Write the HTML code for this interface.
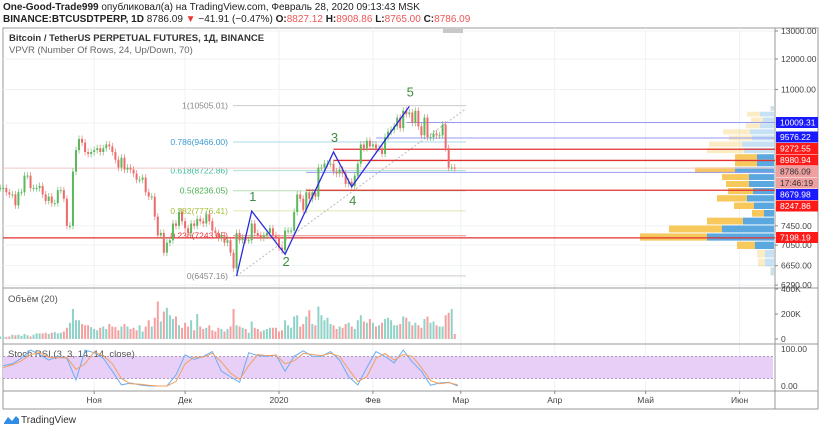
<!DOCTYPE html>
<html><head><meta charset="utf-8"><style>
body{margin:0;background:#fff;width:820px;height:430px;overflow:hidden;font-family:"Liberation Sans",sans-serif}
svg text{font-family:"Liberation Sans","Noto Sans CJK JP",sans-serif}
</style></head><body>
<svg id="c" width="820" height="430" viewBox="0 0 820 430" xmlns="http://www.w3.org/2000/svg">
<text x="3" y="10" font-size="10" fill="#222"><tspan font-weight="bold">One-Good-Trade999</tspan> опубликовал(а) на TradingView.com, Февраль 28, 2020 09:13:43 MSK</text>
<text x="3" y="22" font-size="10" fill="#222"><tspan font-weight="bold">BINANCE:BTCUSDTPERP, 1D</tspan> 8786.09 <tspan fill="#e53935">▼</tspan> −41.91 (−0.47%) <tspan font-weight="bold">O:</tspan><tspan fill="#e55">8827.12</tspan> <tspan font-weight="bold">H:</tspan><tspan fill="#e55">8908.86</tspan> <tspan font-weight="bold">L:</tspan><tspan fill="#e55">8765.00</tspan> <tspan font-weight="bold">C:</tspan><tspan fill="#e55">8786.09</tspan></text>
<g id="grid"></g><g id="main"></g><g id="axes"></g>
</svg>
<script>
const closes=[8300,8300,8200,8150,8150,7900,8200,8200,8600,8600,8300,8300,8300,8350,8150,8000,8100,7950,7950,8250,8250,8050,7450,7450,8700,9250,9550,9450,9200,9150,9200,
9250,9300,9200,9300,9400,9350,9200,9000,8800,9050,8750,8800,8750,8650,8500,8500,8550,8200,8100,8100,7650,7250,7300,6900,7100,7150,7500,7450,7750,7550,
7400,7300,7500,7450,7600,7550,7500,7700,7550,7350,7300,7200,7250,7100,7150,6900,6600,7300,7150,7200,7150,7150,7500,7300,7250,7200,7250,7300,7400,7250,7200,
7000,6950,7350,7350,7350,7750,8150,8050,7800,8200,8050,8200,8100,8800,8800,8900,8900,8900,8700,8650,8750,8650,8400,8450,8350,8600,8900,9400,9300,9500,9350,
9400,9300,9300,9150,9600,9750,9800,9900,10150,9850,10350,10250,10300,10000,10350,9900,9650,10150,9600,9600,9700,9650,9650,9950,9300,8800,8800,8786];
const volumes=[20,20,15,20,35,30,35,25,40,30,20,35,45,45,45,50,40,50,55,45,50,60,90,130,240,150,150,120,110,110,95,
80,70,90,100,80,120,100,95,70,100,120,100,80,90,70,110,60,100,150,100,170,300,140,220,250,190,160,180,110,90,
130,100,150,70,200,100,80,90,110,70,60,90,80,60,80,100,240,110,100,90,80,50,140,90,80,60,70,80,90,90,90,
60,70,150,110,90,180,190,100,120,180,230,120,110,260,190,150,170,120,110,80,100,90,120,130,100,80,150,190,140,130,160,
130,100,110,130,160,170,150,110,110,120,180,170,140,110,130,110,90,160,180,130,140,110,100,100,190,210,240,40];
const stochK=[55,60,75,97,85,70,80,75,16,97,90,75,40,3,8,3,0,0,0,30,84,72,80,93,40,25,10,90,82,80,84,40,80,95,80,80,93,70,25,3,50,93,80,62,97,65,40,2,8,10,0];
const stochD=[50,57,68,85,90,78,76,77,45,60,92,82,60,20,6,5,2,0,0,12,60,78,78,88,65,35,18,55,85,82,83,60,68,88,85,82,88,80,45,12,25,75,88,70,85,80,50,15,6,9,3];
const priceTicks=[13000,12000,11000,7450,7050,6650,6290];
const volTicks=[400,200,0];
const monthLabels=["Ноя","Дек","2020","Фев","Мар","Апр","Май","Июн"];
const monthDays=[31,61,92,123,152,183,213,244];
const fibRatios=["1","0.786","0.618","0.5","0.382","0.236","0"];
const fibPrices=[10505.01,9466.00,8722.86,8236.05,7776.41,7243.05,6457.16];
const vpvrBlue=[3,9,9,19,67,52,31,10,20,27,21,25,25,39,17,17,30,32,22,24,14,11,14,3];
const vpvrYellow=[1,7,8,18,67,53,36,12,20,30,25,23,27,40,22,22,37,33,23,27,14,12,13,1];
const wavePrices=[6457,7770,6870,9200,8330,10480];
const waveDays=[78,83,94,110,116,135];
const hLinePrices=[9272.55,8980.94,8247.86];const hLineStart=[110,110,101];
const bLinePrices=[10009.31,9576.22,8679.98];const bLineStart=[134,124,101];
const lastPrice=8786.09, redFull=7198.19;

const NS="http://www.w3.org/2000/svg";
function el(p,t,a){const e=document.createElementNS(NS,t);for(const k in a)e.setAttribute(k,a[k]);p.appendChild(e);return e;}
const X=d=>279+3.03*(d-92);
const Y=p=>31+Math.log(13000/p)*350;
const VY=v=>339-v*25/200;
const SY=v=>386-v*0.37;
const g=document.getElementById('grid'),m=document.getElementById('main'),ax=document.getElementById('axes');
el(g,'rect',{x:3,y:28,width:815,height:381,fill:'none',stroke:'#999','stroke-width':1});
monthDays.forEach(d=>{el(g,'line',{x1:X(d),x2:X(d),y1:28,y2:391,stroke:'#eef2f5'});});
priceTicks.forEach(p=>{el(g,'line',{x1:3,x2:775,y1:Y(p),y2:Y(p),stroke:'#eef2f5'});});
[10000].forEach(p=>{el(g,'line',{x1:3,x2:775,y1:Y(p),y2:Y(p),stroke:'#eef2f5'});});
[288,344,391].forEach(y=>{el(g,'line',{x1:3,x2:818,y1:y,y2:y,stroke:'#999'});});
el(g,'line',{x1:775,x2:775,y1:28,y2:409,stroke:'#999'});
el(g,'rect',{x:443,y:28,width:20,height:5,fill:'#c8c8c8'});
let t=el(m,'text',{x:9,y:41,'font-size':9.5,'font-weight':'bold',fill:'#333'});t.textContent='Bitcoin / TetherUS PERPETUAL FUTURES, 1Д, BINANCE';


t=el(m,'text',{x:9,y:53,'font-size':9.5,fill:'#666'});t.textContent='VPVR (Number Of Rows, 24, Up/Down, 70)';


const binLo=fibPrices[6],binW=(fibPrices[0]-fibPrices[6])/24;
for(let i=0;i<24;i++){
 const y1=Y(binLo+binW*(i+1)),y2=Y(binLo+binW*i);const op=(i>=3&&i<=15)?1:0.35;
 const b=vpvrBlue[i],yl=vpvrYellow[i];
 let r=el(m,'rect',{x:774-b,y:y1+0.5,width:b,height:y2-y1-1,fill:'#5ba8e0',opacity:op});
 
 
 r=el(m,'rect',{x:774-b-yl,y:y1+0.5,width:yl,height:y2-y1-1,fill:'#f7c85c',opacity:op});
 
 
}
const fibText=['#888','#3d9ad1','#3dbb9b','#4caf50','#a5c23a','#e53935','#888'];
const fibLine=['#ccc','#a8d8ec','#a7e3d2','#b6dfb5','#dbe9b0','#e88','#ccc'];
fibPrices.forEach((p,i)=>{
 const l=el(m,'line',{x1:233,x2:466,y1:Y(p),y2:Y(p),stroke:fibLine[i],'stroke-width':1});
 
 
 const tx=el(m,'text',{x:228,y:Y(p)+3,'font-size':8.5,fill:fibText[i],'text-anchor':'end'});tx.textContent=fibRatios[i]+'('+p.toFixed(2)+')';
 
 
});
el(m,'line',{x1:X(waveDays[0]),y1:Y(fibPrices[6]),x2:466,y2:Y(fibPrices[0])+3,stroke:'#bbb','stroke-dasharray':'2,2'});
el(m,'line',{x1:3,x2:775,y1:Y(lastPrice),y2:Y(lastPrice),stroke:'#f4c6c6'});
let rl=el(m,'line',{x1:3,x2:775,y1:Y(redFull),y2:Y(redFull),stroke:'#e03030','stroke-width':1.2});


hLinePrices.forEach((p,i)=>{const l=el(m,'line',{x1:X(hLineStart[i]),x2:775,y1:Y(p),y2:Y(p),stroke:'#e03030','stroke-width':1.3});
 
 });
bLinePrices.forEach((p,i)=>{const l=el(m,'line',{x1:X(bLineStart[i]),x2:775,y1:Y(p),y2:Y(p),stroke:'#9a9af0','stroke-width':1});
 
 });
closes.forEach((c,i)=>{
 const o=i?closes[i-1]:c;const up=c>=o;const col=up?'#5cb85c':'#ee6b6b';
 const hi=Math.max(o,c)*1.01,lo=Math.min(o,c)*0.99;const x=X(i);
 const w=el(m,'line',{x1:x,x2:x,y1:Y(hi),y2:Y(lo),stroke:col,'stroke-width':0.8,opacity:0.8});
 
 
 const b=el(m,'rect',{x:x-1,y:Y(Math.max(o,c)),width:2,height:Math.max(1,Y(Math.min(o,c))-Y(Math.max(o,c))),fill:col});
 
 
});
let pts=waveDays.map((d,i)=>X(d)+','+Y(wavePrices[i])).join(' ');
let wv=el(m,'polyline',{points:pts,fill:'none',stroke:'#2a2ae0','stroke-width':1.3});


const wOff=[0,-10,12,-10,18,-10];
waveDays.forEach((d,i)=>{if(!i)return;const tx=el(m,'text',{x:X(d)+1,y:Y(wavePrices[i])+wOff[i],'font-size':13,fill:'#3e8e3e','text-anchor':'middle'});tx.textContent=String(i);
 
 });
t=el(m,'text',{x:8,y:302,'font-size':9.5,fill:'#555'});t.textContent='Объём (20)';


volumes.forEach((v,i)=>{const o=i?closes[i-1]:closes[i];const up=closes[i]>=o;
 const r=el(m,'rect',{x:X(i)-1,y:VY(v),width:2,height:339-VY(v),fill:up?'#8fd3c8':'#f5a0a0'});
 
 });
el(m,'rect',{x:3,y:SY(80),width:770,height:SY(20)-SY(80),fill:'#e8cff8'});
[80,20].forEach(v=>el(m,'line',{x1:3,x2:773,y1:SY(v),y2:SY(v),stroke:'#9a8aa8','stroke-dasharray':'2,2','stroke-width':0.8}));
t=el(m,'text',{x:8,y:357,'font-size':9.5,fill:'#555'});t.textContent='Stoch RSI (3, 3, 14, 14, close)';


const SX=i=>X(i*3+1);
let kl=el(m,'polyline',{points:stochK.map((v,i)=>SX(i)+','+SY(v)).join(' '),fill:'none',stroke:'#6aaef0','stroke-width':1});


let dl=el(m,'polyline',{points:stochD.map((v,i)=>SX(i)+','+SY(v)).join(' '),fill:'none',stroke:'#f0a060','stroke-width':1});


priceTicks.forEach(p=>{el(ax,'line',{x1:775,x2:778,y1:Y(p),y2:Y(p),stroke:'#888'});
 const tx=el(ax,'text',{x:781,y:Y(p)+3,'font-size':8.5,fill:'#444'});tx.textContent=p.toFixed(2);
 
 });
const tags=[[10009.31,'#1a1aff','#fff',122.5],[9576.22,'#1a1aff','#fff',137],[9272.55,'#ff1a1a','#fff',148.5],[8980.94,'#ff1a1a','#fff',160],[lastPrice,'#eea0a0','#333',171.5],[8679.98,'#1a1aff','#fff',194.5],[8247.86,'#ff1a1a','#fff',206],[redFull,'#ff1a1a','#fff',237.5]];
tags.forEach(([p,bg,fg,y])=>{
 el(ax,'rect',{x:776,y:y-5.5,width:42,height:11,fill:bg});
 const tx=el(ax,'text',{x:780,y:y+3,'font-size':8.5,fill:fg});tx.textContent=p.toFixed(2);
 
 });
el(ax,'rect',{x:776,y:177.5,width:42,height:11,fill:'#eea0a0'});
t=el(ax,'text',{x:780,y:186,'font-size':8.5,fill:'#333'});t.textContent='17:46:19';


volTicks.forEach(v=>{el(ax,'line',{x1:775,x2:778,y1:VY(v),y2:VY(v),stroke:'#888'});
 const tx=el(ax,'text',{x:781,y:VY(v)+3,'font-size':8.5,fill:'#444'});tx.textContent=v?v+'K':'0';
 
 });
[100,0].forEach(v=>{const tx=el(ax,'text',{x:781,y:SY(v)+3,'font-size':8.5,fill:'#444'});tx.textContent=v.toFixed(2);
 
 });
monthLabels.forEach((lb,i)=>{const x=X(monthDays[i]);el(ax,'line',{x1:x,x2:x,y1:391,y2:394,stroke:'#888'});
 const tx=el(ax,'text',{x:x,y:403,'font-size':8.5,fill:'#444','text-anchor':'middle'});tx.textContent=lb;
 
 });
el(ax,'path',{d:'M4 423 L8 417 L12 421 L16 416 L19 419 L19 424 L4 424 Z',fill:'#2f8de4'});
t=el(ax,'text',{x:21,y:423,'font-size':10,fill:'#333'});t.textContent='TradingView';


</script>
</body></html>
